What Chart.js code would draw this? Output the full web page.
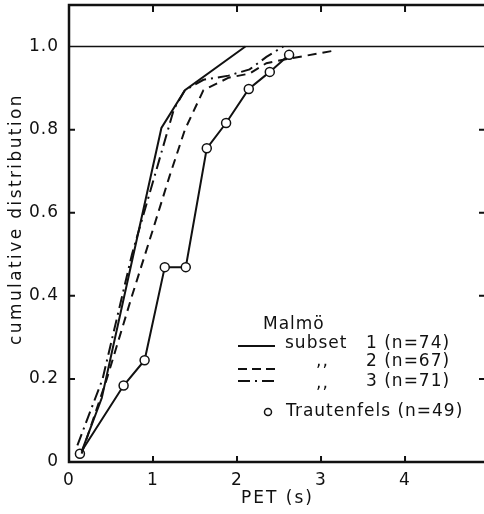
<!DOCTYPE html>
<html>
<head>
<meta charset="utf-8">
<script src="https://cdn.jsdelivr.net/npm/chart.js@4.4.1/dist/chart.umd.min.js"></script>
<style>
  html, body { margin: 0; padding: 0; background: #fff; overflow: hidden; }
  canvas { display: block; }
</style>
</head>
<body>
<canvas id="petChart" width="484" height="514"></canvas>
<script>
// PET values (s) and cumulative shares
const subset1X = [0.15, 0.39, 1.10, 1.38, 2.10];
const subset1Y = [0.025, 0.154, 0.804, 0.895, 1.0];

const subset2X = [0.15, 0.45, 0.75, 1.0, 1.2, 1.38, 1.6, 1.9, 2.15, 2.35, 2.6, 3.15];
const subset2Y = [0.02, 0.2, 0.4, 0.56, 0.69, 0.8, 0.895, 0.925, 0.935, 0.96, 0.97, 0.99];

const subset3X = [0.1, 0.4, 0.75, 0.95, 1.25, 1.38, 1.6, 1.9, 2.15, 2.35, 2.55];
const subset3Y = [0.04, 0.2, 0.5, 0.64, 0.85, 0.895, 0.92, 0.93, 0.945, 0.975, 1.0];

const trautX = [0.13, 0.65, 0.9, 1.14, 1.39, 1.64, 1.87, 2.14, 2.39, 2.62];
const trautY = [0.02, 0.184, 0.245, 0.469, 0.469, 0.755, 0.816, 0.898, 0.939, 0.98];

const xTicks = [0, 1, 2, 3, 4];
const yTicks = [0, 0.2, 0.4, 0.6, 0.8, 1.0];

const FONT = '"DejaVu Sans", sans-serif';
const INK = '#111';

function toPoints(xs, ys) {
    return xs.map((x, i) => ({ x: x, y: ys[i] }));
}

// wider lettering, like the original stencil type
const spacingPlugin = {
    id: 'spacing',
    beforeDraw(chart) {
        chart.ctx.letterSpacing = '1px';
    }
};

// frame, inward ticks and the 1.0 reference line
const framePlugin = {
    id: 'frame',
    beforeDatasetsDraw(chart) {
        const { ctx, chartArea: a, scales: { x, y } } = chart;
        ctx.save();
        ctx.strokeStyle = INK;
        ctx.lineCap = 'butt';
        ctx.lineWidth = 2.5;
        ctx.beginPath();
        ctx.moveTo(a.right, a.top);
        ctx.lineTo(a.left, a.top);
        ctx.lineTo(a.left, a.bottom);
        ctx.lineTo(a.right, a.bottom);
        ctx.stroke();

        ctx.lineWidth = 2;
        ctx.beginPath();
        xTicks.forEach(v => {
            if (v === 0) return;
            const px = x.getPixelForValue(v);
            ctx.moveTo(px, a.bottom);
            ctx.lineTo(px, a.bottom - 6);
            ctx.moveTo(px, a.top);
            ctx.lineTo(px, a.top + 7);
        });
        yTicks.forEach(v => {
            if (v === 0 || v === 1.0) return;
            const py = y.getPixelForValue(v);
            ctx.moveTo(a.left, py);
            ctx.lineTo(a.left + 6, py);
            ctx.moveTo(a.right, py);
            ctx.lineTo(a.right - 5, py);
        });
        ctx.stroke();

        ctx.lineWidth = 1.6;
        ctx.beginPath();
        const p1 = y.getPixelForValue(1.0);
        ctx.moveTo(a.left, p1);
        ctx.lineTo(a.right, p1);
        ctx.stroke();
        ctx.restore();
    }
};

// axis titles and the hand-laid legend
const notesPlugin = {
    id: 'notes',
    afterDraw(chart) {
        const { ctx, chartArea: a } = chart;
        ctx.save();
        ctx.fillStyle = INK;
        ctx.strokeStyle = INK;
        ctx.font = '17px ' + FONT;
        ctx.textBaseline = 'middle';

        ctx.letterSpacing = '2px';
        ctx.textAlign = 'center';
        ctx.fillText('PET (s)', (a.left + a.right) / 2 + 1, 499);
        ctx.save();
        ctx.translate(17, 219);
        ctx.rotate(-Math.PI / 2);
        ctx.letterSpacing = '2.4px';
        ctx.fillText('cumulative distribution', 0, 0);
        ctx.restore();

        ctx.letterSpacing = '1px';
        ctx.textAlign = 'left';
        ctx.fillText('Malmö', 263, 325);
        ctx.fillText('subset', 285, 344);
        ctx.fillText('1 (n=74)', 366, 344);
        ctx.fillText('2 (n=67)', 366, 362);
        ctx.fillText('3 (n=71)', 366, 382);
        ctx.fillText(',,', 316, 362);
        ctx.fillText(',,', 316, 384);
        ctx.fillText('Trautenfels (n=49)', 286, 412);

        ctx.lineWidth = 2;
        ctx.beginPath();
        ctx.moveTo(238, 346);
        ctx.lineTo(275, 346);
        ctx.stroke();

        ctx.setLineDash([9, 5]);
        ctx.beginPath();
        ctx.moveTo(238, 369);
        ctx.lineTo(277, 369);
        ctx.stroke();

        ctx.setLineDash([12, 5, 2, 5]);
        ctx.beginPath();
        ctx.moveTo(238, 381);
        ctx.lineTo(277, 381);
        ctx.stroke();
        ctx.setLineDash([]);

        ctx.lineWidth = 1.5;
        ctx.fillStyle = '#fff';
        ctx.beginPath();
        ctx.arc(268, 412, 3.5, 0, Math.PI * 2);
        ctx.fill();
        ctx.stroke();
        ctx.restore();
    }
};

const lineStyle = {
    borderColor: INK,
    borderWidth: 2,
    pointRadius: 0,
    showLine: true,
    tension: 0,
    fill: false
};

new Chart(document.getElementById('petChart').getContext('2d'), {
    type: 'scatter',
    data: {
        datasets: [
            Object.assign({ label: 'subset 1 (n=74)', data: toPoints(subset1X, subset1Y) }, lineStyle),
            Object.assign({ label: '2 (n=67)', data: toPoints(subset2X, subset2Y), borderDash: [9, 6] }, lineStyle),
            Object.assign({ label: '3 (n=71)', data: toPoints(subset3X, subset3Y), borderDash: [12, 5, 2, 5] }, lineStyle),
            {
                label: 'Trautenfels (n=49)',
                data: toPoints(trautX, trautY),
                showLine: true,
                borderColor: INK,
                borderWidth: 2,
                pointRadius: 4.5,
                pointBorderWidth: 1.5,
                pointBackgroundColor: '#fff',
                pointBorderColor: INK
            }
        ]
    },
    options: {
        responsive: false,
        animation: false,
        devicePixelRatio: 1,
        layout: { autoPadding: false, padding: { top: 5, right: 0, bottom: 0, left: 0 } },
        plugins: {
            legend: { display: false },
            tooltip: { enabled: false }
        },
        scales: {
            x: {
                type: 'linear',
                min: 0,
                max: 4.94,
                afterBuildTicks: scale => { scale.ticks = xTicks.map(v => ({ value: v })); },
                afterFit: scale => {
                    scale.height = 52;
                    scale.paddingLeft = 0;
                    scale.paddingRight = 0;
                },
                grid: { display: false, drawTicks: false },
                border: { display: false },
                ticks: {
                    color: INK,
                    padding: 8,
                    maxRotation: 0,
                    font: { family: FONT, size: 17 },
                    callback: v => String(v)
                }
            },
            y: {
                type: 'linear',
                min: 0,
                max: 1.1,
                afterBuildTicks: scale => { scale.ticks = yTicks.map(v => ({ value: v })); },
                afterFit: scale => {
                    scale.width = 69;
                    scale.paddingTop = 0;
                    scale.paddingBottom = 0;
                },
                grid: { display: false, drawTicks: false },
                border: { display: false },
                ticks: {
                    color: INK,
                    padding: 10,
                    font: { family: FONT, size: 17 },
                    callback: v => v === 0 ? '0' : v.toFixed(1)
                }
            }
        }
    },
    plugins: [spacingPlugin, framePlugin, notesPlugin]
});
</script>
</body>
</html>
